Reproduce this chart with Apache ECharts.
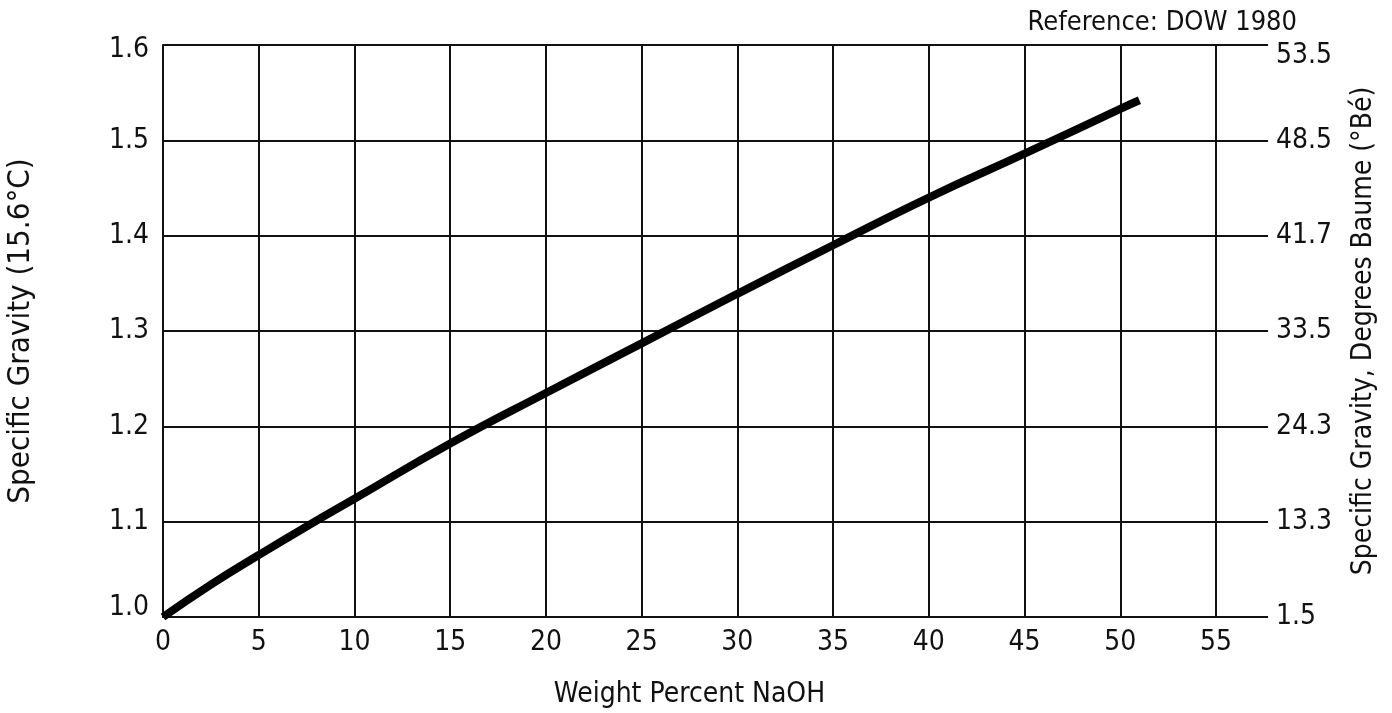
<!DOCTYPE html>
<html>
<head>
<meta charset="utf-8">
<script src="https://cdn.jsdelivr.net/npm/echarts@6/dist/echarts.min.js"></script>
<style>
html,body{margin:0;padding:0;background:#fff;}
#chart{width:1392px;height:713px;}
</style>
</head>
<body>
<div id="chart"></div>
<script>
// Data
const weightPercent = [0, 2.5, 5, 7.5, 10, 15, 20, 25, 30, 35, 40, 45, 50, 51];
const specificGravity = [1.0, 1.034, 1.065, 1.095, 1.124, 1.182, 1.235, 1.287, 1.339, 1.390, 1.440, 1.486, 1.533, 1.542];
const xTicks = [0, 5, 10, 15, 20, 25, 30, 35, 40, 45, 50, 55];
const sgTicks = ['1.0', '1.1', '1.2', '1.3', '1.4', '1.5', '1.6'];
const baumeLabels = ['1.5', '13.3', '24.3', '33.5', '41.7', '48.5', '53.5'];

const FONT = '"Liberation Sans Narrow", "DejaVu Sans Condensed", sans-serif';
const FS = 28;
const chart = echarts.init(document.getElementById('chart'), null, {renderer: 'canvas'});

const seriesData = weightPercent.map((x, i) => [x, specificGravity[i]]);
const idx = v => Math.round((v - 1.0) / 0.1);
const baseText = {fontFamily: FONT, fontSize: FS, color: '#111'};

chart.setOption({
  backgroundColor: '#ffffff',
  animation: false,
  title: {
    text: 'Reference: DOW 1980',
    right: 90,
    top: 4,
    textStyle: {fontFamily: FONT, fontSize: 27, fontWeight: 'normal', color: '#111'}
  },
  grid: {left: 163, right: 176, top: 45, bottom: 96, containLabel: false, outerBoundsMode: 'none'},
  xAxis: {
    type: 'value',
    min: 0, max: 55, interval: 5,
    name: 'Weight Percent NaOH',
    nameLocation: 'middle',
    nameGap: 64,
    nameTextStyle: baseText,
    axisLine: {show: true, lineStyle: {color: '#111', width: 2}},
    axisTick: {show: false},
    axisLabel: Object.assign({}, baseText, {
      margin: 12,
      formatter: v => xTicks.indexOf(v) >= 0 ? String(v) : ''
    }),
    splitLine: {show: true, lineStyle: {color: '#111', width: 2}}
  },
  yAxis: [
    {
      type: 'value',
      position: 'left',
      min: 1.0, max: 1.6, interval: 0.1,
      name: 'Specific Gravity (15.6°C)',
      nameLocation: 'middle',
      nameRotate: 90,
      nameGap: 127,
      nameTextStyle: Object.assign({}, baseText, {fontSize: 31}),
      axisLine: {show: true, lineStyle: {color: '#111', width: 2}},
      axisTick: {show: false},
      axisLabel: Object.assign({}, baseText, {
        margin: 14,
        formatter: v => {
          const i = idx(v);
          if (i === 6) return '{top|' + sgTicks[i] + '}';
          if (i === 0) return '{bot|' + sgTicks[i] + '}';
          return sgTicks[i];
        },
        rich: {
          top: Object.assign({}, baseText, {padding: [10, 0, 0, 0]}),
          bot: Object.assign({}, baseText, {padding: [0, 0, 18, 0]})
        }
      }),
      splitLine: {show: true, lineStyle: {color: '#111', width: 2}}
    },
    {
      type: 'value',
      position: 'right',
      min: 1.0, max: 1.6, interval: 0.1,
      name: 'Specific Gravity, Degrees Baume (°Bé)',
      nameLocation: 'middle',
      nameRotate: 90,
      nameGap: 134,
      nameTextStyle: baseText,
      axisLine: {show: false},
      axisTick: {show: true, inside: false, length: 52, lineStyle: {color: '#111', width: 2}},
      axisLabel: Object.assign({}, baseText, {
        margin: 60,
        formatter: v => {
          const i = idx(v);
          return i === 6 ? '{top|' + baumeLabels[i] + '}' : baumeLabels[i];
        },
        rich: {
          top: Object.assign({}, baseText, {padding: [22, 0, 0, 0]})
        }
      }),
      splitLine: {show: false}
    }
  ],
  series: [{
    type: 'line',
    data: seriesData,
    showSymbol: false,
    smooth: true,
    lineStyle: {color: '#000', width: 8, cap: 'butt'},
    clip: false
  }]
});
</script>
</body>
</html>
